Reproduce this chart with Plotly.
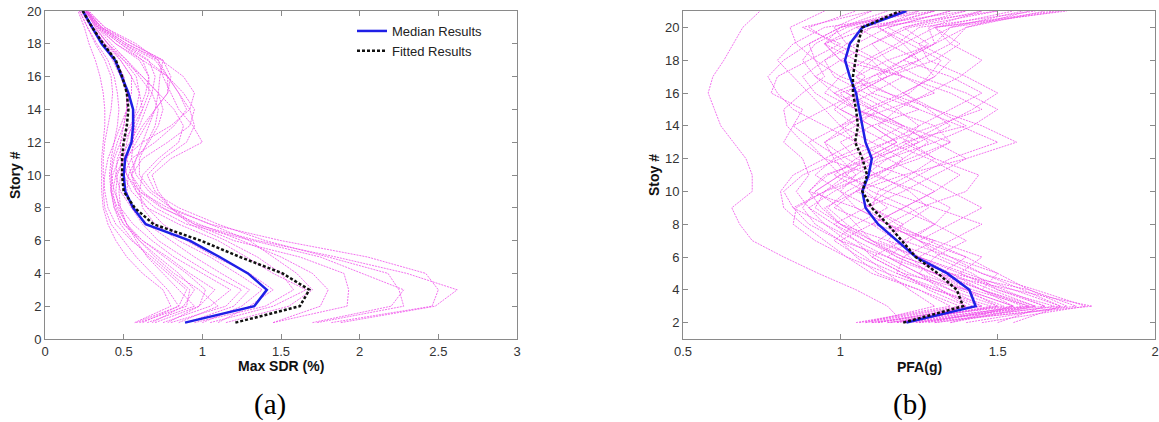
import plotly.graph_objects as go

# ---------------- Data: panel (a) Max SDR (%) vs story 1..20 ----------------
stories_a = list(range(1, 21))

median_sdr = [0.89, 1.33, 1.41, 1.29, 1.11, 0.92, 0.64, 0.56, 0.51, 0.50,
              0.51, 0.55, 0.56, 0.56, 0.53, 0.49, 0.445, 0.36, 0.30, 0.24]
fitted_sdr = [1.21, 1.62, 1.68, 1.51, 1.24, 0.99, 0.69, 0.57, 0.50, 0.49,
              0.49, 0.50, 0.52, 0.53, 0.52, 0.49, 0.45, 0.37, 0.30, 0.24]

records_sdr = [
    [1.88, 2.48, 2.62, 2.30, 1.85, 1.35, 0.95, 0.75, 0.62, 0.55, 0.52, 0.55, 0.58, 0.62, 0.60, 0.55, 0.48, 0.40, 0.32, 0.26],
    [1.82, 2.46, 2.50, 2.42, 2.05, 1.50, 1.05, 0.80, 0.66, 0.58, 0.55, 0.56, 0.57, 0.56, 0.52, 0.48, 0.43, 0.37, 0.30, 0.25],
    [1.73, 2.28, 2.25, 2.18, 1.80, 1.40, 1.10, 0.85, 0.68, 0.60, 0.60, 0.65, 0.70, 0.72, 0.68, 0.60, 0.52, 0.42, 0.33, 0.27],
    [1.70, 2.20, 2.28, 2.02, 1.75, 1.32, 0.90, 0.70, 0.58, 0.52, 0.50, 0.52, 0.55, 0.58, 0.60, 0.58, 0.50, 0.40, 0.32, 0.26],
    [1.45, 1.92, 1.93, 1.90, 1.62, 1.20, 0.95, 0.80, 0.70, 0.65, 0.75, 0.90, 0.95, 0.92, 0.85, 0.78, 0.70, 0.50, 0.35, 0.27],
    [1.15, 1.55, 1.70, 1.60, 1.45, 1.30, 1.05, 0.78, 0.60, 0.55, 0.58, 0.62, 0.66, 0.70, 0.72, 0.73, 0.75, 0.55, 0.38, 0.28],
    [1.05, 1.45, 1.66, 1.45, 1.28, 1.10, 0.85, 0.65, 0.55, 0.50, 0.55, 0.70, 0.82, 0.90, 0.85, 0.78, 0.62, 0.45, 0.34, 0.26],
    [0.95, 1.40, 1.58, 1.50, 1.35, 1.15, 0.92, 0.80, 0.72, 0.68, 0.80, 1.00, 0.94, 0.85, 0.80, 0.75, 0.72, 0.58, 0.38, 0.27],
    [1.10, 1.30, 1.45, 1.30, 1.08, 0.90, 0.75, 0.65, 0.58, 0.55, 0.62, 0.78, 0.92, 0.95, 0.88, 0.78, 0.65, 0.48, 0.34, 0.25],
    [0.90, 1.20, 1.30, 1.12, 0.95, 0.80, 0.65, 0.55, 0.48, 0.45, 0.46, 0.50, 0.56, 0.62, 0.66, 0.66, 0.60, 0.45, 0.33, 0.25],
    [0.80, 1.15, 1.25, 1.05, 0.88, 0.72, 0.62, 0.55, 0.52, 0.53, 0.58, 0.66, 0.72, 0.75, 0.72, 0.62, 0.50, 0.38, 0.30, 0.24],
    [0.75, 1.05, 1.18, 1.00, 0.82, 0.68, 0.56, 0.48, 0.44, 0.42, 0.43, 0.46, 0.50, 0.52, 0.52, 0.50, 0.45, 0.36, 0.29, 0.23],
    [0.70, 0.98, 1.08, 0.92, 0.78, 0.62, 0.52, 0.46, 0.42, 0.41, 0.42, 0.44, 0.46, 0.47, 0.46, 0.44, 0.40, 0.33, 0.27, 0.22],
    [0.65, 0.95, 0.85, 0.75, 0.65, 0.58, 0.52, 0.48, 0.47, 0.48, 0.52, 0.58, 0.64, 0.70, 0.78, 0.80, 0.75, 0.55, 0.36, 0.27],
    [0.60, 0.90, 0.92, 0.80, 0.68, 0.55, 0.45, 0.40, 0.38, 0.37, 0.37, 0.38, 0.40, 0.42, 0.43, 0.42, 0.38, 0.32, 0.27, 0.22],
    [0.58, 0.85, 0.78, 0.68, 0.58, 0.50, 0.42, 0.38, 0.37, 0.38, 0.40, 0.44, 0.48, 0.52, 0.55, 0.55, 0.48, 0.38, 0.30, 0.24],
    [0.57, 0.80, 0.75, 0.62, 0.52, 0.45, 0.40, 0.37, 0.36, 0.36, 0.36, 0.37, 0.38, 0.38, 0.37, 0.35, 0.32, 0.28, 0.25, 0.21],
    [0.85, 1.10, 0.98, 0.82, 0.70, 0.60, 0.52, 0.47, 0.45, 0.46, 0.50, 0.62, 0.80, 0.92, 0.95, 0.88, 0.74, 0.52, 0.36, 0.26],
    [1.00, 1.25, 1.38, 1.22, 1.05, 0.85, 0.70, 0.62, 0.60, 0.62, 0.72, 0.85, 0.88, 0.82, 0.72, 0.62, 0.52, 0.40, 0.31, 0.24],
    [0.78, 0.98, 1.02, 0.90, 0.76, 0.62, 0.50, 0.44, 0.42, 0.43, 0.47, 0.54, 0.60, 0.64, 0.68, 0.70, 0.66, 0.50, 0.35, 0.26],
    [0.68, 0.88, 0.95, 0.85, 0.72, 0.60, 0.50, 0.45, 0.43, 0.45, 0.50, 0.56, 0.62, 0.70, 0.78, 0.78, 0.72, 0.52, 0.36, 0.27],
    [1.45, 1.75, 1.80, 1.70, 1.50, 1.25, 0.98, 0.74, 0.60, 0.52, 0.48, 0.48, 0.50, 0.52, 0.52, 0.50, 0.45, 0.38, 0.30, 0.24],
    [0.62, 0.85, 0.90, 0.78, 0.66, 0.56, 0.48, 0.44, 0.42, 0.42, 0.44, 0.48, 0.54, 0.60, 0.64, 0.66, 0.62, 0.48, 0.34, 0.26],
]

# ---------------- Data: panel (b) PFA(g) vs story 2..21 ----------------
stories_b = list(range(2, 22))

median_pfa = [1.21, 1.43, 1.41, 1.34, 1.24, 1.18, 1.12, 1.08, 1.07, 1.09,
              1.10, 1.08, 1.07, 1.06, 1.05, 1.03, 1.015, 1.03, 1.07, 1.21]
fitted_pfa = [1.20, 1.39, 1.37, 1.31, 1.24, 1.195, 1.15, 1.10, 1.07, 1.085,
              1.07, 1.047, 1.056, 1.05, 1.04, 1.04, 1.047, 1.056, 1.07, 1.19]

records_pfa = [
    [1.20, 1.15, 1.05, 0.93, 0.82, 0.72, 0.68, 0.655, 0.72, 0.72, 0.70, 0.66, 0.62, 0.60, 0.58, 0.595, 0.63, 0.66, 0.69, 0.745],
    [1.25, 1.80, 1.55, 1.40, 1.25, 1.10, 1.00, 0.92, 0.95, 1.10, 1.25, 1.35, 1.20, 1.05, 0.98, 1.10, 1.25, 1.35, 1.40, 1.60],
    [1.30, 1.75, 1.60, 1.35, 1.20, 1.30, 1.15, 1.05, 0.90, 0.95, 1.10, 1.20, 1.40, 1.30, 1.15, 1.05, 1.10, 1.20, 1.30, 1.72],
    [1.15, 1.60, 1.45, 1.30, 1.15, 1.05, 0.95, 0.85, 0.82, 0.88, 1.00, 1.15, 1.30, 1.45, 1.35, 1.20, 1.00, 0.95, 1.10, 1.50],
    [1.20, 1.65, 1.50, 1.38, 1.45, 1.30, 1.10, 0.98, 1.05, 1.20, 1.40, 1.56, 1.45, 1.30, 1.20, 1.30, 1.25, 1.15, 1.05, 1.20],
    [1.10, 1.55, 1.40, 1.20, 1.10, 1.20, 1.30, 1.35, 1.25, 1.10, 0.95, 0.90, 1.00, 1.15, 1.30, 1.20, 1.05, 0.95, 1.05, 1.40],
    [1.18, 1.50, 1.35, 1.25, 1.15, 1.00, 0.90, 0.85, 0.95, 1.05, 1.00, 0.92, 0.85, 0.88, 0.78, 0.80, 0.90, 1.00, 0.88, 1.10],
    [1.22, 1.70, 1.55, 1.30, 1.25, 1.35, 1.45, 1.30, 1.15, 1.00, 1.10, 1.25, 1.15, 1.05, 1.00, 1.15, 1.30, 1.38, 1.30, 1.55],
    [1.05, 1.35, 1.25, 1.10, 1.02, 0.95, 0.88, 0.82, 0.81, 0.85, 0.95, 1.05, 1.00, 0.95, 0.90, 0.85, 0.80, 0.85, 0.95, 1.30],
    [1.12, 1.45, 1.30, 1.15, 1.08, 1.00, 1.10, 1.20, 1.30, 1.20, 1.05, 1.00, 1.10, 1.25, 1.15, 1.00, 0.92, 0.90, 1.00, 1.25],
    [1.40, 1.72, 1.60, 1.50, 1.35, 1.20, 1.15, 1.25, 1.40, 1.44, 1.30, 1.20, 1.25, 1.35, 1.45, 1.35, 1.20, 1.30, 1.40, 1.65],
    [1.25, 1.60, 1.42, 1.30, 1.18, 1.10, 1.05, 1.00, 0.92, 1.00, 1.15, 1.30, 1.42, 1.50, 1.40, 1.25, 1.15, 1.10, 1.20, 1.45],
    [1.08, 1.40, 1.28, 1.20, 1.10, 1.05, 0.98, 0.90, 0.86, 0.90, 0.88, 0.82, 0.85, 0.95, 1.05, 1.15, 1.10, 0.98, 0.90, 1.05],
    [1.30, 1.68, 1.50, 1.42, 1.30, 1.15, 1.00, 0.95, 1.05, 1.15, 1.20, 1.10, 1.00, 1.08, 1.20, 1.30, 1.35, 1.25, 1.15, 1.35],
    [1.15, 1.52, 1.38, 1.28, 1.22, 1.15, 1.20, 1.10, 1.00, 0.92, 0.98, 1.10, 1.20, 1.10, 0.98, 0.92, 1.00, 1.10, 1.22, 1.50],
    [1.35, 1.62, 1.48, 1.35, 1.20, 1.08, 0.98, 1.08, 1.20, 1.30, 1.40, 1.30, 1.18, 1.05, 0.95, 1.00, 1.08, 1.18, 1.25, 1.62],
    [1.10, 1.45, 1.35, 1.22, 1.12, 1.02, 0.95, 0.90, 0.98, 1.08, 1.15, 1.05, 0.95, 0.85, 0.80, 0.77, 0.82, 0.90, 1.00, 1.15],
    [1.20, 1.58, 1.45, 1.32, 1.40, 1.25, 1.15, 1.08, 1.15, 1.25, 1.35, 1.50, 1.38, 1.25, 1.10, 1.05, 1.15, 1.30, 1.35, 1.58],
    [1.06, 1.38, 1.25, 1.12, 1.05, 1.00, 0.92, 0.88, 0.92, 1.00, 0.95, 0.88, 0.83, 0.82, 0.88, 0.95, 0.92, 0.86, 0.84, 0.95],
    [1.28, 1.55, 1.40, 1.25, 1.30, 1.40, 1.30, 1.18, 1.05, 1.10, 1.22, 1.35, 1.30, 1.15, 1.05, 1.10, 1.20, 1.28, 1.20, 1.40],
    [1.18, 1.48, 1.30, 1.18, 1.06, 0.98, 1.05, 1.15, 1.08, 0.98, 1.05, 1.15, 1.25, 1.18, 1.08, 0.98, 0.95, 1.02, 1.10, 1.30],
    [1.45, 1.78, 1.62, 1.45, 1.32, 1.25, 1.35, 1.45, 1.35, 1.25, 1.15, 1.25, 1.35, 1.28, 1.20, 1.12, 1.20, 1.30, 1.28, 1.45],
    [1.12, 1.42, 1.32, 1.18, 1.20, 1.10, 1.02, 0.96, 1.02, 1.12, 1.20, 1.28, 1.20, 1.10, 1.02, 1.08, 1.00, 0.95, 1.00, 1.20],
    [1.50, 1.65, 1.52, 1.38, 1.25, 1.12, 1.20, 1.28, 1.22, 1.12, 1.02, 0.95, 1.02, 1.10, 1.22, 1.28, 1.32, 1.22, 1.12, 1.25],
    [1.16, 1.50, 1.40, 1.30, 1.18, 1.08, 1.00, 0.94, 0.90, 0.96, 1.08, 1.18, 1.10, 1.00, 0.92, 0.88, 0.95, 1.05, 1.15, 1.35],
    [1.24, 1.62, 1.45, 1.35, 1.25, 1.18, 1.10, 1.20, 1.30, 1.38, 1.28, 1.15, 1.05, 0.98, 1.05, 1.15, 1.25, 1.20, 1.12, 1.30],
    [1.35, 1.55, 1.45, 1.50, 1.40, 1.28, 1.18, 1.10, 1.12, 1.22, 1.30, 1.22, 1.12, 1.18, 1.28, 1.38, 1.45, 1.35, 1.30, 1.68],
    [1.08, 1.30, 1.22, 1.15, 1.02, 0.92, 0.85, 0.86, 0.95, 1.02, 0.98, 0.95, 1.05, 1.12, 1.02, 0.92, 0.88, 0.92, 1.02, 1.22],
    [1.20, 1.40, 1.32, 1.25, 1.15, 1.22, 1.30, 1.22, 1.10, 1.02, 1.08, 1.18, 1.10, 1.00, 1.10, 1.20, 1.12, 1.02, 0.98, 1.10],
    [1.55, 1.70, 1.58, 1.45, 1.35, 1.25, 1.15, 1.05, 1.00, 1.05, 1.12, 1.22, 1.32, 1.42, 1.50, 1.40, 1.28, 1.25, 1.35, 1.70],
]

xticks_a = [0, 0.5, 1, 1.5, 2, 2.5, 3]
yticks_a = [0, 2, 4, 6, 8, 10, 12, 14, 16, 18, 20]
xticks_b = [0.5, 1, 1.5, 2]
yticks_b = [2, 4, 6, 8, 10, 12, 14, 16, 18, 20]

# ---------------- Styling ----------------
W, H = 1159, 422
FONT = "Arial, Liberation Sans, sans-serif"
PINK = "rgba(240,80,235,0.8)"
BLUE = "#1f1fe6"
AXC = "#8a8a8a"

fig = go.Figure()

for rec in records_sdr:
    fig.add_trace(go.Scatter(x=rec, y=stories_a, mode="lines", xaxis="x", yaxis="y",
                             line=dict(color=PINK, width=1, dash="2px,1px"),
                             showlegend=False, hoverinfo="skip"))
for rec in records_pfa:
    fig.add_trace(go.Scatter(x=rec, y=stories_b, mode="lines", xaxis="x2", yaxis="y2",
                             line=dict(color=PINK, width=1, dash="2px,1px"),
                             showlegend=False, hoverinfo="skip"))

fig.add_trace(go.Scatter(x=median_sdr, y=stories_a, mode="lines", xaxis="x", yaxis="y",
                         name="Median Results", line=dict(color=BLUE, width=2.5)))
fig.add_trace(go.Scatter(x=fitted_sdr, y=stories_a, mode="lines", xaxis="x", yaxis="y",
                         name="Fitted Results", line=dict(color="#111111", width=2.5, dash="3px,2px")))
fig.add_trace(go.Scatter(x=median_pfa, y=stories_b, mode="lines", xaxis="x2", yaxis="y2",
                         showlegend=False, line=dict(color=BLUE, width=2.5)))
fig.add_trace(go.Scatter(x=fitted_pfa, y=stories_b, mode="lines", xaxis="x2", yaxis="y2",
                         showlegend=False, line=dict(color="#111111", width=2.5, dash="3px,2px")))

def px_x(p):
    return p / W

def px_y(p):
    return 1 - p / H

ax_common = dict(showgrid=False, zeroline=False, showline=True, linecolor=AXC, linewidth=1,
                 mirror="ticks", ticks="inside", ticklen=5, tickcolor=AXC,
                 tickfont=dict(family=FONT, size=13, color="#333333"), automargin=False)

fig.update_layout(
    width=W, height=H,
    margin=dict(l=0, r=0, t=0, b=0),
    paper_bgcolor="white", plot_bgcolor="white",
    xaxis=dict(domain=[px_x(45), px_x(517)], range=[0, 3], tickvals=xticks_a,
               ticktext=[f"{v:g}" for v in xticks_a], anchor="y", **ax_common),
    yaxis=dict(domain=[px_y(339), px_y(11)], range=[0, 20], tickvals=yticks_a,
               ticktext=[f"{v:g}" for v in yticks_a], anchor="x", **ax_common),
    xaxis2=dict(domain=[px_x(683), px_x(1155)], range=[0.5, 2], tickvals=xticks_b,
                ticktext=[f"{v:g}" for v in xticks_b], anchor="y2", **ax_common),
    yaxis2=dict(domain=[px_y(339), px_y(11)], range=[1, 21], tickvals=yticks_b,
                ticktext=[f"{v:g}" for v in yticks_b], anchor="x2", **ax_common),
    legend=dict(x=px_x(352), y=px_y(16), xanchor="left", yanchor="top",
                bgcolor="rgba(0,0,0,0)", borderwidth=0,
                font=dict(family=FONT, size=13, color="#222222"), tracegroupgap=0),
    showlegend=True,
)

title_font = dict(family=FONT, size=14, color="#111111")
annos = [
    dict(text="<b>Max SDR (%)</b>", x=px_x(281), y=px_y(366)),
    dict(text="<b>PFA(g)</b>", x=px_x(919), y=px_y(367)),
    dict(text="<b>Story #</b>", x=px_x(15), y=px_y(175), textangle=-90),
    dict(text="<b>Stoy #</b>", x=px_x(654), y=px_y(175), textangle=-90),
]
for a in annos:
    fig.add_annotation(xref="paper", yref="paper", showarrow=False, xanchor="center",
                       yanchor="middle", font=title_font, **a)

cap_font = dict(family="Liberation Serif, Times New Roman, serif", size=29, color="#000000")
fig.add_annotation(text="(a)", x=px_x(270), y=px_y(404), xref="paper", yref="paper",
                   showarrow=False, xanchor="center", yanchor="middle", font=cap_font)
fig.add_annotation(text="(b)", x=px_x(910), y=px_y(404), xref="paper", yref="paper",
                   showarrow=False, xanchor="center", yanchor="middle", font=cap_font)

fig.write_html("out.html")
